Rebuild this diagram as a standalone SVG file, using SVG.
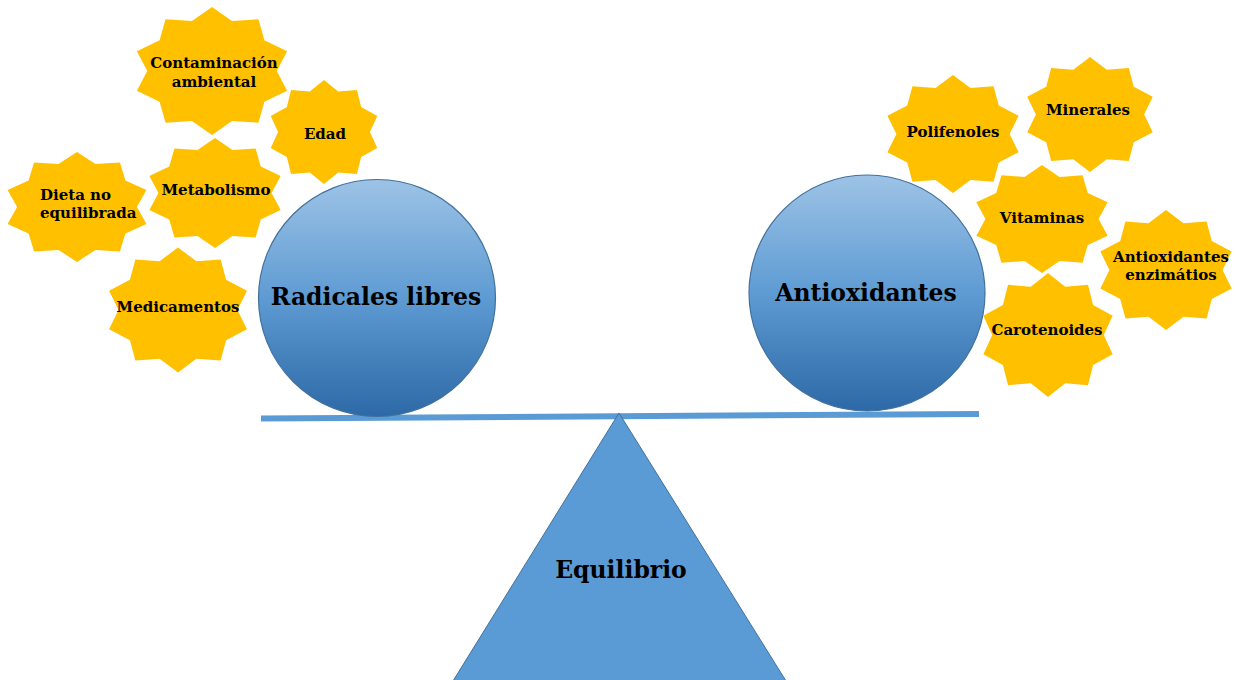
<svg xmlns="http://www.w3.org/2000/svg" xmlns:xlink="http://www.w3.org/1999/xlink" width="1236" height="680" viewBox="0 0 1236 680">
<style>
.star{fill:#ffc000}
.st{font-family:"DejaVu Serif",serif;font-weight:bold;font-size:15px;fill:#000;text-anchor:middle}
.st.l{text-anchor:start}
.big{font-family:"DejaVu Serif",serif;font-weight:bold;font-size:23.5px;fill:#000;text-anchor:middle}
.ball{fill:url(#g);stroke:#41719c;stroke-width:1.2}
</style>
<defs>
<linearGradient id="g" x1="0" y1="0" x2="0" y2="1">
<stop offset="0" stop-color="#9dc3e6"/>
<stop offset="0.5" stop-color="#5e9bd3"/>
<stop offset="1" stop-color="#2c69a6"/>
</linearGradient>
<polygon id="s10" points="0,-1 0.2534,-0.7799 0.5878,-0.809 0.6634,-0.482 0.9511,-0.309 0.82,0 0.9511,0.309 0.6634,0.482 0.5878,0.809 0.2534,0.7799 0,1 -0.2534,0.7799 -0.5878,0.809 -0.6634,0.482 -0.9511,0.309 -0.82,0 -0.9511,-0.309 -0.6634,-0.482 -0.5878,-0.809 -0.2534,-0.7799"/>
</defs>
<rect width="1236" height="680" fill="#fff"/>
<g id="scale">
<line x1="261" y1="418.5" x2="979" y2="414" stroke="#5b9bd5" stroke-width="6"/>
</g>
<g id="equilibrio">
<polygon points="619,413 453,681 786,681" fill="#5b9bd5" stroke="#41719c" stroke-width="1"/>
<text class="big" x="621" y="578">Equilibrio</text>
</g>
<g id="radicales">
<circle class="ball" cx="377" cy="298" r="118.5"/>
<text class="big" x="376" y="305">Radicales libres</text>
</g>
<g id="antioxidantes">
<circle class="ball" cx="867" cy="293" r="118"/>
<text class="big" x="866" y="301">Antioxidantes</text>
</g>
<g id="contaminacion">
<use href="#s10" class="star" transform="translate(212,71) scale(79,64)"/>
<text class="st" x="214" y="68">Contaminación</text>
<text class="st" x="214" y="87">ambiental</text>
</g>
<g id="edad">
<use href="#s10" class="star" transform="translate(324,132) scale(56,52)"/>
<text class="st" x="325" y="139">Edad</text>
</g>
<g id="metabolismo">
<use href="#s10" class="star" transform="translate(215,193) scale(69,55)"/>
<text class="st" x="216" y="195">Metabolismo</text>
</g>
<g id="dieta">
<use href="#s10" class="star" transform="translate(77,207) scale(73,55)"/>
<text class="st l" x="40" y="200">Dieta no</text>
<text class="st l" x="40" y="218">equilibrada</text>
</g>
<g id="medicamentos">
<use href="#s10" class="star" transform="translate(178,310) scale(72.5,62.5)"/>
<text class="st" x="178" y="312">Medicamentos</text>
</g>
<g id="polifenoles">
<use href="#s10" class="star" transform="translate(953,134) scale(69,59)"/>
<text class="st" x="953" y="137">Polifenoles</text>
</g>
<g id="minerales">
<use href="#s10" class="star" transform="translate(1090,114.5) scale(66,57.5)"/>
<text class="st" x="1088" y="115">Minerales</text>
</g>
<g id="vitaminas">
<use href="#s10" class="star" transform="translate(1042,219) scale(69,54)"/>
<text class="st" x="1042" y="223">Vitaminas</text>
</g>
<g id="enzimaticos">
<use href="#s10" class="star" transform="translate(1166,270) scale(69,60)"/>
<text class="st" x="1171" y="262">Antioxidantes</text>
<text class="st" x="1171" y="280">enzimátios</text>
</g>
<g id="carotenoides">
<use href="#s10" class="star" transform="translate(1048,335) scale(68,62)"/>
<text class="st" x="1047" y="335">Carotenoides</text>
</g>
</svg>
